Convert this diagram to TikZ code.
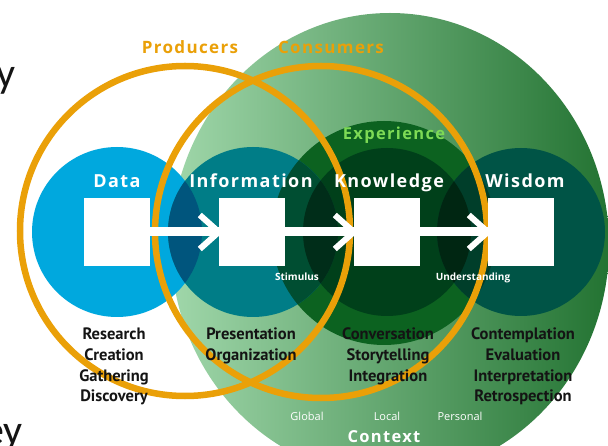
\documentclass[tikz,border=0pt]{standalone}
\usepackage{fontspec}
\setmainfont{Open Sans}
\newfontfamily\hfont[LetterSpace=8]{Open Sans}
\newfontfamily\lfont{PT Sans}
\newfontfamily\cfont{Carlito}
\definecolor{orng}{RGB}{234,160,8}
\definecolor{datac}{RGB}{0,168,222}
\definecolor{infoc}{RGB}{0,125,135}
\definecolor{knowc}{RGB}{0,64,26}
\definecolor{wisc}{RGB}{0,84,70}
\definecolor{expc}{RGB}{12,98,32}
\definecolor{dic}{RGB}{0,85,125}
\definecolor{iec}{RGB}{0,78,50}
\definecolor{ikc}{RGB}{0,45,25}
\definecolor{wec}{RGB}{0,62,42}
\definecolor{kwc}{RGB}{0,38,18}
\definecolor{ctxl}{RGB}{160,215,170}
\definecolor{ctxd}{RGB}{35,115,50}
\definecolor{expt}{RGB}{125,218,85}
\definecolor{ink}{RGB}{20,20,20}
\begin{document}
\begin{tikzpicture}[x=1pt,y=-1pt,
  ring/.style={draw=orng, line width=6.5pt},
  wbox/.style={fill=white, minimum width=66pt, minimum height=68pt, inner sep=0pt},
  bar/.style={draw=white, line width=9pt},
  chev/.style={draw=white, line width=6pt},
  hd/.style={text=white, anchor=base, inner sep=0pt, font=\hfont\bfseries\fontsize{18}{20}\selectfont},
  hdsm/.style={text=white, anchor=base, inner sep=0pt, font=\hfont\bfseries\fontsize{16.5}{20}\selectfont},
  ttl/.style={text=orng, anchor=base, inner sep=0pt, font=\hfont\bfseries\fontsize{17}{20}\selectfont},
  sml/.style={text=white, anchor=base, inner sep=0pt, font=\bfseries\fontsize{10}{12}\selectfont},
  ctx/.style={text=white, anchor=base, inner sep=0pt, font=\fontsize{11}{13}\selectfont},
  lbl/.style={text=ink, anchor=base, inner sep=0pt, font=\lfont\bfseries\fontsize{16.5}{18}\selectfont},
  slide/.style={text=ink, anchor=base east, inner sep=0pt, font=\cfont\fontsize{42}{46}\selectfont}]
\useasboundingbox (0,0) rectangle (608,446);
\clip (0,0) rectangle (608,446);
\fill[white] (0,0) rectangle (608,446);
\coordinate (cctx) at (390,245);
\coordinate (cexp) at (384,233);
\coordinate (cdata) at (117,232);
\coordinate (cinfo) at (253,232);
\coordinate (cknow) at (387,232);
\coordinate (cwis) at (521,232);
\coordinate (cprod) at (185,231);
\coordinate (ccons) at (321,232);
% context and experience
\shade[left color=ctxl, right color=ctxd] (cctx) ellipse[x radius=219, y radius=232];
\fill[expc] (cexp) circle[radius=112];
% main circles
\fill[datac] (cdata) circle[radius=85];
\fill[infoc] (cinfo) circle[radius=85];
\fill[wisc] (cwis) circle[radius=84];
\fill[knowc] (cknow) circle[radius=84];
% overlaps
\begin{scope}
  \clip (cdata) circle[radius=85];
  \fill[dic] (cinfo) circle[radius=85];
\end{scope}
\begin{scope}
  \clip (cinfo) circle[radius=85];
  \fill[iec] (cexp) circle[radius=112];
  \fill[ikc] (cknow) circle[radius=84];
\end{scope}
\begin{scope}
  \clip (cwis) circle[radius=84];
  \fill[wec] (cexp) circle[radius=112];
  \fill[kwc] (cknow) circle[radius=84];
\end{scope}
% rings
\draw[ring] (cprod) circle[radius=165];
\draw[ring] (ccons) circle[radius=166];
% boxes
\node[wbox] (bdata) at (117,232) {};
\node[wbox] (binfo) at (252,232) {};
\node[wbox] (bknow) at (387,232) {};
\node[wbox] (bwis) at (521,232) {};
% arrows
\draw[bar] (bdata.east) -- (binfo.west);
\draw[bar] (binfo.east) -- (bknow.west);
\draw[bar] (bknow.east) -- (bwis.west);
\draw[chev] (binfo.west) ++(-19,-17) -- (binfo.west) -- ++(-19,17);
\draw[chev] (bknow.west) ++(-19,-17) -- (bknow.west) -- ++(-19,17);
\draw[chev] (bwis.west) ++(-19,-17) -- (bwis.west) -- ++(-19,17);
% titles
\node[ttl] (tprod) at (190,53.5) {Producers};
\node[ttl] (tcons) at (331,53.5) {Consumers};
\node[hdsm, text=expt] (texp) at (394,139.5) {Experience};
\node[hd] (tdata) at (117,187.5) {Data};
\node[hd] (tinfo) at (251,187.5) {Information};
\node[hd] (tknow) at (389,187.5) {Knowledge};
\node[hd] (twis) at (525,187.5) {Wisdom};
\node[sml] (tstim) at (297,280.7) {Stimulus};
\node[sml] (tund) at (473,280.7) {Understanding};
% labels
\node[lbl] (l1a) at (114,339.5) {Research};
\node[lbl] (l1b) at (114,360.3) {Creation};
\node[lbl] (l1c) at (114,381.1) {Gathering};
\node[lbl] (l1d) at (114,401.9) {Discovery};
\node[lbl] (l2a) at (251,339.5) {Presentation};
\node[lbl] (l2b) at (251,360.3) {Organization};
\node[lbl] (l3a) at (388,339.5) {Conversation};
\node[lbl] (l3b) at (388,360.3) {Storytelling};
\node[lbl] (l3c) at (388,381.1) {Integration};
\node[lbl] (l4a) at (523,339.5) {Contemplation};
\node[lbl] (l4b) at (523,360.3) {Evaluation};
\node[lbl] (l4c) at (523,381.1) {Interpretation};
\node[lbl] (l4d) at (523,401.9) {Retrospection};
% context
\node[ctx] (tglob) at (307,420.7) {Global};
\node[ctx] (tloc) at (387,420.7) {Local};
\node[ctx] (tpers) at (460,420.7) {Personal};
\node[hdsm] (tctx) at (384,442.7) {Context};
% slide fragments
\node[slide] (sy) at (15.5,88) {y};
\node[slide] (sey) at (23,444) {ey};
\end{tikzpicture}
\end{document}
